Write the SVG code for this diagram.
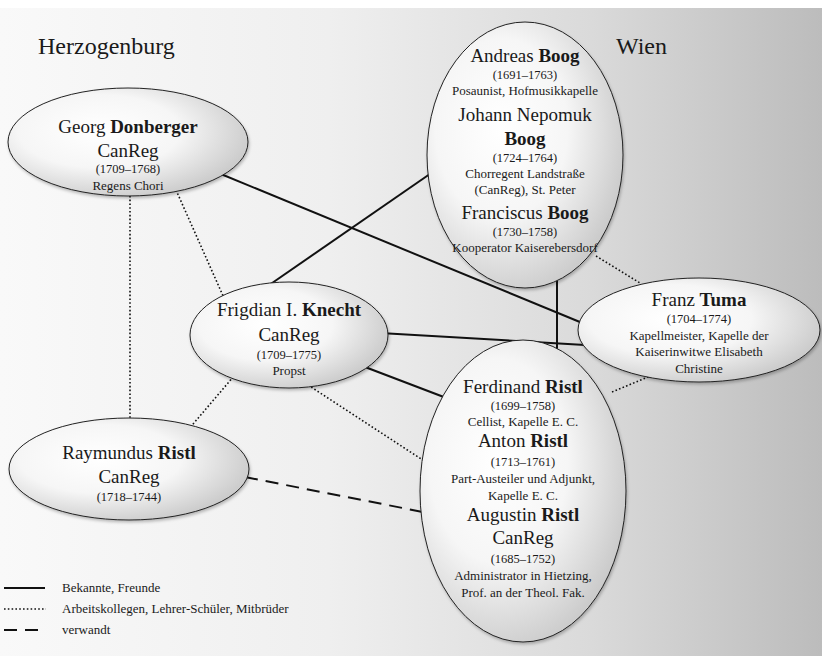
<svg xmlns="http://www.w3.org/2000/svg" width="822" height="656" viewBox="0 0 822 656">
<defs>
<linearGradient id="bg" x1="0" y1="0" x2="1" y2="0">
<stop offset="0" stop-color="#f9f9f9"/>
<stop offset="0.4" stop-color="#efefef"/>
<stop offset="0.72" stop-color="#dadada"/>
<stop offset="1" stop-color="#bcbcbc"/>
</linearGradient>
<radialGradient id="ng" cx="0.38" cy="0.4" r="0.75">
<stop offset="0" stop-color="#ffffff"/>
<stop offset="0.45" stop-color="#f6f6f6"/>
<stop offset="1" stop-color="#bdbdbd"/>
</radialGradient>
<filter id="sh" x="-10%" y="-10%" width="125%" height="125%">
<feDropShadow dx="1" dy="2" stdDeviation="1.5" flood-color="#000" flood-opacity="0.25"/>
</filter>
</defs>
<style>
text{font-family:"Liberation Serif","DejaVu Serif",serif;fill:#1a1a1a;text-anchor:middle}
.nm{font-size:19px}
.b{font-weight:bold}
.yr{font-size:12.5px}
.ds{font-size:13px}
.hd{font-size:24px;text-anchor:start}
.lg{font-size:13px;text-anchor:start}
.node{fill:url(#ng);stroke:#222;stroke-width:1;filter:url(#sh)}
.solid{stroke:#111;stroke-width:2;fill:none}
.dot{stroke:#111;stroke-width:1.6;fill:none;stroke-dasharray:1.6 2.2}
.dash{stroke:#111;stroke-width:2;fill:none;stroke-dasharray:13 8}
</style>
<rect x="0" y="0" width="822" height="656" fill="#ffffff"/>
<rect x="0" y="8" width="822" height="648" fill="url(#bg)"/>
<text class="hd" x="38" y="54">Herzogenburg</text>
<text class="hd" x="616" y="54">Wien</text>
<g id="connectors">
<line class="solid" x1="216" y1="172" x2="592" y2="327"/>
<line class="solid" x1="262" y1="290" x2="440" y2="167"/>
<line class="solid" x1="380" y1="333" x2="585" y2="345"/>
<line class="solid" x1="365" y1="367" x2="470" y2="407"/>
<line class="solid" x1="557" y1="280" x2="557" y2="350"/>
<line class="dot" x1="130" y1="192" x2="130" y2="425"/>
<line class="dot" x1="176" y1="190" x2="224" y2="298"/>
<line class="dot" x1="188" y1="430" x2="234" y2="376"/>
<line class="dot" x1="308" y1="385" x2="438" y2="470"/>
<line class="dot" x1="596" y1="256" x2="640" y2="283"/>
<line class="dot" x1="612" y1="392" x2="660" y2="372"/>
<line class="dash" x1="245" y1="477" x2="428" y2="513"/>
</g>
<g id="georg">
<ellipse class="node" cx="128" cy="142" rx="120" ry="54"/>
<text class="nm" x="128" y="133">Georg <tspan class="b">Donberger</tspan></text>
<text class="nm" x="128" y="157">CanReg</text>
<text class="yr" x="128" y="173">(1709–1768)</text>
<text class="ds" x="128" y="190">Regens Chori</text>
</g>
<g id="boog">
<ellipse class="node" cx="525" cy="155" rx="98" ry="133"/>
<text class="nm" x="525" y="62">Andreas <tspan class="b">Boog</tspan></text>
<text class="yr" x="525" y="79">(1691–1763)</text>
<text class="ds" x="525" y="95">Posaunist, Hofmusikkapelle</text>
<text class="nm" x="525" y="121">Johann Nepomuk</text>
<text class="nm b" x="525" y="145">Boog</text>
<text class="yr" x="525" y="162">(1724–1764)</text>
<text class="ds" x="525" y="178">Chorregent Landstraße</text>
<text class="ds" x="525" y="194">(CanReg), St. Peter</text>
<text class="nm" x="525" y="219">Franciscus <tspan class="b">Boog</tspan></text>
<text class="yr" x="525" y="236">(1730–1758)</text>
<text class="ds" x="525" y="252" font-size="12.5">Kooperator Kaiserebersdorf</text>
</g>
<g id="frigdian">
<ellipse class="node" cx="289" cy="335" rx="99" ry="53"/>
<text class="nm" x="289" y="316">Frigdian I. <tspan class="b">Knecht</tspan></text>
<text class="nm" x="289" y="341">CanReg</text>
<text class="yr" x="289" y="359">(1709–1775)</text>
<text class="ds" x="289" y="375">Propst</text>
</g>
<g id="tuma">
<ellipse class="node" cx="699" cy="330" rx="121" ry="52"/>
<text class="nm" x="699" y="306">Franz <tspan class="b">Tuma</tspan></text>
<text class="yr" x="699" y="323">(1704–1774)</text>
<text class="ds" x="699" y="340">Kapellmeister, Kapelle der</text>
<text class="ds" x="699" y="356">Kaiserinwitwe Elisabeth</text>
<text class="ds" x="699" y="373">Christine</text>
</g>
<g id="raymundus">
<ellipse class="node" cx="129" cy="469" rx="120" ry="51"/>
<text class="nm" x="129" y="459">Raymundus <tspan class="b">Ristl</tspan></text>
<text class="nm" x="129" y="483">CanReg</text>
<text class="yr" x="129" y="501">(1718–1744)</text>
</g>
<g id="ristl">
<ellipse class="node" cx="523" cy="491" rx="103" ry="151"/>
<text class="nm" x="523" y="393">Ferdinand <tspan class="b">Ristl</tspan></text>
<text class="yr" x="523" y="410">(1699–1758)</text>
<text class="ds" x="523" y="426">Cellist, Kapelle E. C.</text>
<text class="nm" x="523" y="447">Anton <tspan class="b">Ristl</tspan></text>
<text class="yr" x="523" y="466">(1713–1761)</text>
<text class="ds" x="523" y="483">Part-Austeiler und Adjunkt,</text>
<text class="ds" x="523" y="500">Kapelle E. C.</text>
<text class="nm" x="523" y="521">Augustin <tspan class="b">Ristl</tspan></text>
<text class="nm" x="523" y="544">CanReg</text>
<text class="yr" x="523" y="563">(1685–1752)</text>
<text class="ds" x="523" y="580">Administrator in Hietzing,</text>
<text class="ds" x="523" y="597">Prof. an der Theol. Fak.</text>
</g>
<g id="legend">
<line class="solid" x1="4" y1="588" x2="45" y2="588"/>
<line class="dot" x1="4" y1="609" x2="46" y2="609"/>
<line class="dash" x1="4" y1="630" x2="46" y2="630" stroke-dasharray="12 7 2 20"/>
<text class="lg" x="62" y="592">Bekannte, Freunde</text>
<text class="lg" x="62" y="613">Arbeitskollegen, Lehrer-Schüler, Mitbrüder</text>
<text class="lg" x="62" y="634">verwandt</text>
</g>
</svg>
